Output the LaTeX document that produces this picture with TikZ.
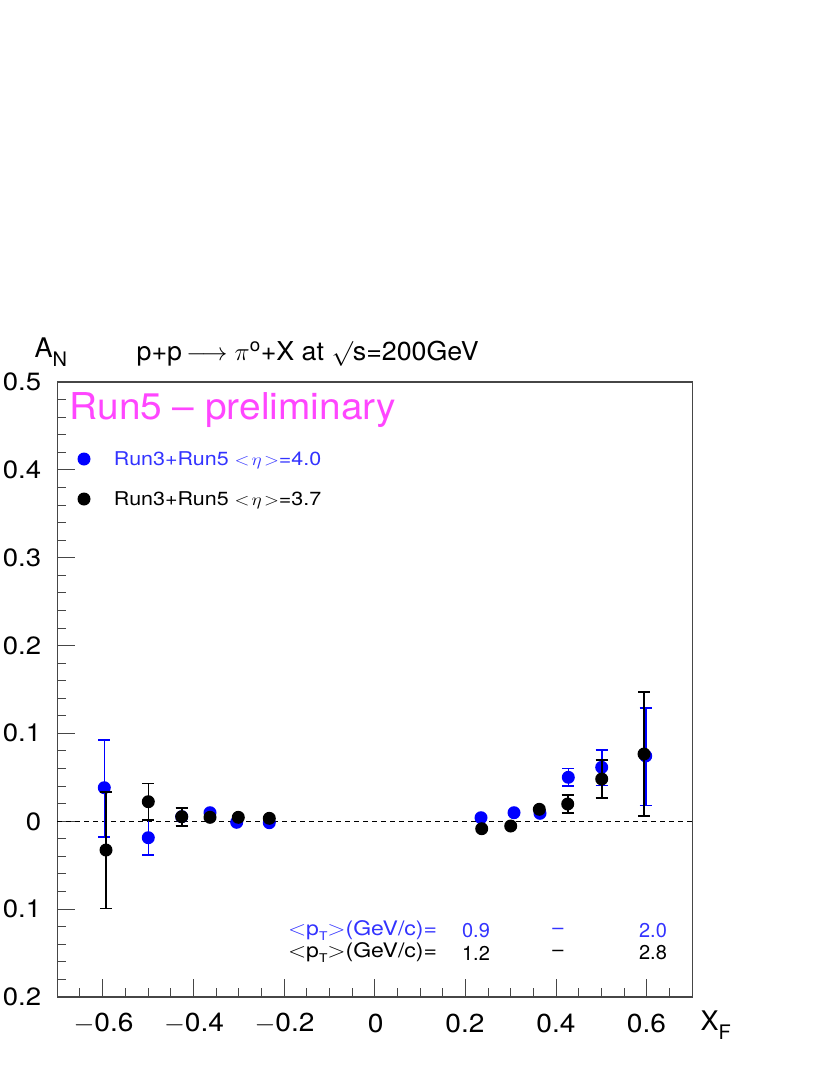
\documentclass[tikz,border=0pt]{standalone}
\usepackage{fontspec}
\setmainfont{TeX Gyre Heros}
\definecolor{pblue}{RGB}{0,0,255}
\definecolor{tblue}{RGB}{51,51,255}
\definecolor{pmag}{RGB}{255,70,255}
\definecolor{frm}{RGB}{70,70,70}
\newcommand{\fs}[1]{\fontsize{#1}{#1}\selectfont}
\newcommand{\dotp}[3]{\fill[#3] (#1,#2) circle (6.5);}
\newcommand{\ebar}[4]{\draw[#4,line width=1.6] (#1,#2) -- (#1,#3) (#1-6,#2) -- (#1+6,#2) (#1-6,#3) -- (#1+6,#3);}
\begin{document}
\begin{tikzpicture}[x=1pt,y=-1pt,
  ylab/.style={anchor=east,font=\fs{25},xscale=1.1},
  xlab/.style={anchor=center,font=\fs{26},xscale=1.08},
  pttext/.style={anchor=west,font=\fs{20},xscale=1.15}]
\useasboundingbox (0,0) rectangle (830,1075);
% frame
\draw[frm,line width=1.4] (57.3,382) rectangle (692.3,997);
% y ticks
\foreach \i in {0,...,35}{
  \pgfmathsetmacro{\yy}{382+\i*17.571}
  \pgfmathtruncatemacro{\m}{mod(\i,5)}
  \ifnum\m=0 \draw[frm,line width=1] (57.3,\yy) -- (75,\yy);
  \else \draw[frm,line width=1] (57.3,\yy) -- (66,\yy); \fi}
% x ticks
\foreach \i in {0,...,28}{
  \pgfmathsetmacro{\xx}{57.3+\i*22.68}
  \pgfmathtruncatemacro{\m}{mod(\i+2,4)}
  \ifnum\m=0 \draw[frm,line width=1] (\xx,997) -- (\xx,979);
  \else \draw[frm,line width=1] (\xx,997) -- (\xx,988); \fi}
% y labels
\node[ylab] at (45,382) {0.5};
\node[ylab] at (45,470) {0.4};
\node[ylab] at (45,558) {0.3};
\node[ylab] at (45,646) {0.2};
\node[ylab] at (45,733) {0.1};
\node[ylab] at (45,822) {0};
\node[ylab] at (45,909) {0.1};
\node[ylab] at (45,997) {0.2};
% x labels
\node[xlab] at (103.5,1023) {$-$0.6};
\node[xlab] at (194,1023) {$-$0.4};
\node[xlab] at (284.5,1023) {$-$0.2};
\node[xlab] at (375.7,1023) {0};
\node[xlab] at (465,1023) {0.2};
\node[xlab] at (556,1023) {0.4};
\node[xlab] at (646.5,1023) {0.6};
\node[anchor=west,font=\fs{27}] at (697,1025) {X\raisebox{-0.35em}{\fs{20}F}};
\node[anchor=west,font=\fs{27}] at (31,352) {A\raisebox{-0.35em}{\fs{20}N}};
% zero line
\draw[dashed,line width=0.9,dash pattern=on 5pt off 4pt] (57.3,821.5) -- (692.3,821.5);
% title
\node[anchor=west,font=\fs{26},xscale=1.03] at (133,354) {p+p$\,\longrightarrow\pi^{\mathrm o}$+X at $\surd$s=200GeV};
\node[anchor=west,font=\fs{37},pmag,xscale=1.05] at (66,410) {Run5 -- preliminary};
% legend
\dotp{84}{459}{pblue}
\dotp{84}{499}{black}
\node[anchor=west,font=\fs{19},tblue,xscale=1.13] at (110,460) {Run3+Run5 $<\!\eta\!>$=4.0};
\node[anchor=west,font=\fs{19},xscale=1.13] at (110,500) {Run3+Run5 $<\!\eta\!>$=3.7};
% pT text
\node[pttext,tblue] at (284,931) {$<$p\raisebox{-0.25em}{\fs{12}T}$>$(GeV/c)=};
\node[pttext] at (284,953) {$<$p\raisebox{-0.25em}{\fs{12}T}$>$(GeV/c)=};
\node[font=\fs{20},tblue] at (476,931) {0.9};
\node[font=\fs{20},tblue] at (558,931) {--};
\node[font=\fs{20},tblue] at (653,931) {2.0};
\node[font=\fs{20}] at (476,953) {1.2};
\node[font=\fs{20}] at (558,953) {--};
\node[font=\fs{20}] at (653,953) {2.8};
% blue error bars
\ebar{104.3}{740}{836.7}{pblue}
\ebar{148.3}{820.5}{855}{pblue}
\ebar{181.7}{808}{825.3}{pblue}
\ebar{568.3}{768.3}{786}{pblue}
\ebar{601.7}{750}{785.3}{pblue}
\ebar{645.7}{707.7}{805.3}{pblue}
% blue points
\dotp{104.3}{787.7}{pblue}
\dotp{148.3}{837.7}{pblue}
\dotp{181.7}{816.7}{pblue}
\dotp{210}{812.7}{pblue}
\dotp{236.7}{822.3}{pblue}
\dotp{269.3}{822.7}{pblue}
\dotp{481}{817.7}{pblue}
\dotp{514}{812.7}{pblue}
\dotp{540}{813.3}{pblue}
\dotp{568.3}{777.3}{pblue}
\dotp{601.7}{767.3}{pblue}
\dotp{645.7}{756}{pblue}
% black error bars
\ebar{106}{791.7}{908.3}{black}
\ebar{148.3}{783.3}{820}{black}
\ebar{181.7}{808}{826}{black}
\ebar{567.7}{795}{812.7}{black}
\ebar{601.7}{760}{797.7}{black}
\ebar{644}{691.7}{816}{black}
% black points
\dotp{106}{850}{black}
\dotp{148.3}{801.7}{black}
\dotp{181.7}{816.7}{black}
\dotp{210}{817.3}{black}
\dotp{238.3}{817.3}{black}
\dotp{269.3}{818.3}{black}
\dotp{481.7}{828.7}{black}
\dotp{510.7}{826}{black}
\dotp{539.3}{809.3}{black}
\dotp{567.7}{804}{black}
\dotp{601.7}{779}{black}
\dotp{644}{754}{black}
\end{tikzpicture}
\end{document}
